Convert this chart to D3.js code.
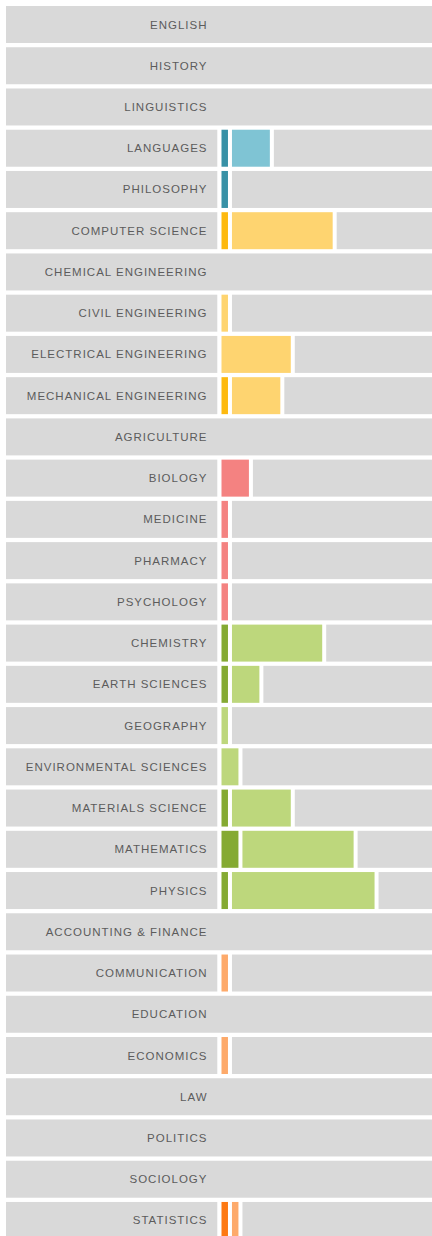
<!DOCTYPE html>
<html lang="en">
<head>
    <meta charset="UTF-8">
    <title>Subjects</title>
    <script src="https://cdn.jsdelivr.net/npm/d3@7"></script>
    <style>
        body { margin: 0; background: #fff; }
        text { font-family: "Liberation Sans", Arial, sans-serif; }
    </style>
</head>
<body>
<script type="application/javascript">

    let w = 432, h = 1236;

    let subjects = [
        'ENGLISH', 'HISTORY', 'LINGUISTICS', 'LANGUAGES', 'PHILOSOPHY',
        'COMPUTER SCIENCE', 'CHEMICAL ENGINEERING', 'CIVIL ENGINEERING',
        'ELECTRICAL ENGINEERING', 'MECHANICAL ENGINEERING',
        'AGRICULTURE', 'BIOLOGY', 'MEDICINE', 'PHARMACY', 'PSYCHOLOGY',
        'CHEMISTRY', 'EARTH SCIENCES', 'GEOGRAPHY', 'ENVIRONMENTAL SCIENCES',
        'MATERIALS SCIENCE', 'MATHEMATICS', 'PHYSICS',
        'ACCOUNTING & FINANCE', 'COMMUNICATION', 'EDUCATION', 'ECONOMICS',
        'LAW', 'POLITICS', 'SOCIOLOGY', 'STATISTICS'
    ];
    let groups = [
        'arts', 'arts', 'arts', 'arts', 'arts',
        'eng', 'eng', 'eng', 'eng', 'eng',
        'life', 'life', 'life', 'life', 'life',
        'nat', 'nat', 'nat', 'nat', 'nat', 'nat', 'nat',
        'soc', 'soc', 'soc', 'soc', 'soc', 'soc', 'soc', 'soc'
    ];
    // two counts per subject: dark part, light part
    let darkValues = [0, 0, 0, 1, 1, 1, 0, 0, 0, 1, 0, 0, 0, 0, 0, 1, 1, 0, 0, 1, 2, 1, 0, 0, 0, 0, 0, 0, 0, 1];
    let lightValues = [0, 0, 0, 4, 0, 10, 0, 1, 7, 5, 0, 3, 1, 1, 1, 9, 3, 1, 2, 6, 11, 14, 0, 1, 0, 1, 0, 0, 0, 1];

    let darkColor = { arts: '#3891a6', eng: '#fdb90f', life: '#f48281', nat: '#85aa33', soc: '#fd7913' };
    let lightColor = { arts: '#7fc4d4', eng: '#fed470', life: '#f48281', nat: '#bdd77c', soc: '#fdaa6b' };

    let grey = '#d9d9d9', gap = 4;
    let labelLeft = 6, labelRight = 217.3;

    let rows = subjects.map((s, i) => {
        let segs = [];
        let cum = 0;
        if (darkValues[i] > 0) {
            segs.push({ x0: cum, v: darkValues[i], color: darkColor[groups[i]] });
            cum += darkValues[i];
        }
        if (lightValues[i] > 0) {
            segs.push({ x0: cum, v: lightValues[i], color: lightColor[groups[i]] });
            cum += lightValues[i];
        }
        return { name: s, segs: segs, total: cum };
    });

    let y = d3.scaleBand()
        .domain(subjects)
        .range([6, 6 + 29 * 41.24 + 37])
        .paddingInner(0.103);

    let x = d3.scaleLinear()
        .domain([0, 20])
        .range([labelRight + gap + 0.2, labelRight + gap + 0.2 + 209.4]);

    let svg = d3.select('body')
        .append('svg')
        .attr('width', w)
        .attr('height', h);

    let row = svg.selectAll('g.row')
        .data(rows)
        .enter()
        .append('g')
        .attr('class', 'row')
        .attr('transform', d => 'translate(0,' + y(d.name) + ')');

    // label cell (whole row when empty)
    row.append('rect')
        .attr('x', labelLeft)
        .attr('y', 0)
        .attr('width', d => d.total > 0 ? labelRight - labelLeft : w - labelLeft)
        .attr('height', y.bandwidth())
        .attr('fill', grey);

    // remaining grey part
    row.filter(d => d.total > 0)
        .append('rect')
        .attr('x', d => x(d.total))
        .attr('y', 0)
        .attr('width', d => Math.max(0, w - x(d.total)))
        .attr('height', y.bandwidth())
        .attr('fill', grey);

    row.selectAll('rect.seg')
        .data(d => d.segs)
        .enter()
        .append('rect')
        .attr('class', 'seg')
        .attr('x', d => x(d.x0))
        .attr('y', 0)
        .attr('width', d => x(d.x0 + d.v) - x(d.x0) - gap)
        .attr('height', y.bandwidth())
        .attr('fill', d => d.color);

    row.append('text')
        .attr('x', 207.5)
        .attr('y', y.bandwidth() / 2)
        .attr('dy', '0.35em')
        .attr('text-anchor', 'end')
        .attr('fill', '#5c5c5c')
        .style('font-size', '11.5px')
        .style('letter-spacing', '1px')
        .text(d => d.name);

</script>
</body>
</html>
